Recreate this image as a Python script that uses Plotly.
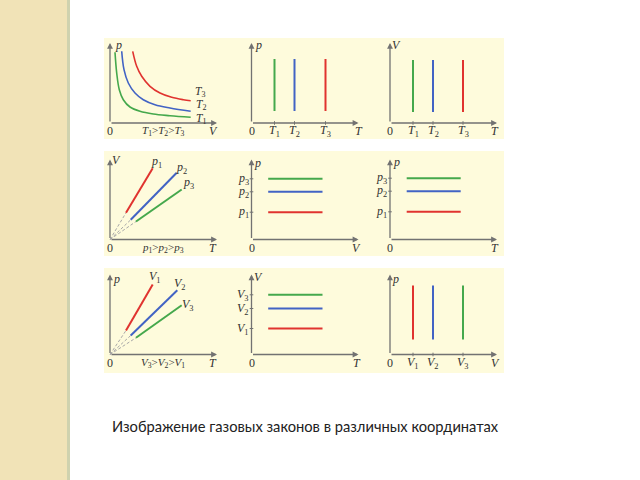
import plotly.graph_objects as go

W, H = 640, 480

# ---------------- data (abstract units) ----------------
# Panel 1: isotherms p(V)
iso_T1_V = [5, 6.7, 9.3, 13.3, 20, 30, 43.3, 60, 80.7]
iso_T1_p = [70.7, 50, 33.3, 23.3, 16, 11.7, 9, 7.3, 5.7]
iso_T2_V = [11.7, 14, 18.3, 25, 33.3, 45, 60, 80.7]
iso_T2_p = [71.7, 53.3, 40, 30, 23.3, 18.3, 15, 11.7]
iso_T3_V = [22.7, 26.7, 31.7, 40, 50, 61.7, 73.3, 80.7]
iso_T3_p = [71.7, 56.7, 46.7, 36.7, 30, 25.7, 23.3, 22.3]

# Panels 2 and 3: isotherms in p-T and V-T (vertical lines)
pT_T_pos = [23, 43, 74]
pT_span = [12, 64]
VT_T_pos = [23, 43, 73]
VT_span = [11, 63]
T_labels = ["1", "2", "3"]

# Panel 4: isobars V(T): solid segment start/end
isobar_T_start = [16, 20.7, 26]
isobar_V_start = [26.7, 19.7, 18]
isobar_T_end = [42.7, 66.7, 71.7]
isobar_V_end = [71.3, 66.7, 50]

# Panel 5: isobars p-V (horizontal lines), order p1, p2, p3
pV_p_levels = [27.3, 47.7, 60.7]
pV_span = [16.7, 71]
# Panel 6: isobars p-T
pT_p_levels = [27.7, 48.3, 61.3]
pT_span_h = [16.7, 70.7]

# Panel 7: isochores p(T)
isochore_T_start = [16, 20.7, 26]
isochore_p_start = [24, 19, 16.7]
isochore_T_end = [42.7, 67.3, 71.7]
isochore_p_end = [70, 64.3, 49.3]

# Panel 8: isochores V-T (horizontal), order V1, V2, V3
VT_V_levels = [26, 46, 59.7]
VT_span_h = [16.7, 71]

# Panel 9: isochores p-V (vertical), order V1, V2, V3
pV_V_pos = [23, 43, 73]
pV_span_v = [15, 69]

RED, BLUE, GREEN = "#E0332F", "#4263C4", "#45A84C"
AXC = "#727272"
CREAM = "#FEFBDC"
FONT = "Liberation Serif"

# ---------------- layout geometry ----------------
cols = [(104, 238, 110), (238, 372, 251.5), (372, 504, 390)]
rows = [(38, 139, 123), (151, 256, 239.5), (268, 373, 354.5)]
AX_X, AX_Y = 107, 80

fig = go.Figure()
layout = {}
annotations = []
shapes = []

def ref(n):
    return ("x" if n == 1 else f"x{n}", "y" if n == 1 else f"y{n}")

n = 0
for r, (y0, y1, oy) in enumerate(rows):
    for c, (x0, x1, ox) in enumerate(cols):
        n += 1
        xn = "xaxis" if n == 1 else f"xaxis{n}"
        yn = "yaxis" if n == 1 else f"yaxis{n}"
        xr, yr = ref(n)
        layout[xn] = dict(domain=[x0 / W, x1 / W], range=[x0 - ox, x1 - ox],
                          visible=False, anchor=yr, fixedrange=True)
        layout[yn] = dict(domain=[1 - y1 / H, 1 - y0 / H], range=[oy - y1, oy - y0],
                          visible=False, anchor=xr, fixedrange=True)
        # axis arrows
        for (hx, hy) in [(AX_X, 0), (0, AX_Y)]:
            annotations.append(dict(xref=xr, yref=yr, axref=xr, ayref=yr,
                                    x=hx, y=hy, ax=0, ay=0, text="",
                                    showarrow=True, arrowhead=2, arrowsize=0.9,
                                    arrowwidth=1.3, arrowcolor=AXC))

# row backgrounds
for (y0, y1, oy) in rows:
    shapes.append(dict(type="rect", xref="paper", yref="paper", layer="below",
                       x0=104 / W, x1=504 / W, y0=1 - y1 / H, y1=1 - y0 / H,
                       fillcolor=CREAM, line=dict(width=0)))
# left decorative strip
shapes.append(dict(type="rect", xref="paper", yref="paper", layer="below",
                   x0=0, x1=67 / W, y0=0, y1=1, fillcolor="#F1E3B7", line=dict(width=0)))
shapes.append(dict(type="rect", xref="paper", yref="paper", layer="below",
                   x0=67 / W, x1=70 / W, y0=0, y1=1, fillcolor="#CFD2AE", line=dict(width=0)))


def line(n, xs, ys, color, width=2, dash=None, shape="linear"):
    xr, yr = ref(n)
    fig.add_trace(go.Scatter(x=xs, y=ys, mode="lines", xaxis=xr, yaxis=yr,
                             line=dict(color=color, width=width, dash=dash, shape=shape),
                             showlegend=False, hoverinfo="skip"))


def label(n, x, y, text, size=12, xanchor="center"):
    xr, yr = ref(n)
    annotations.append(dict(xref=xr, yref=yr, x=x, y=y, text=text, showarrow=False,
                            xanchor=xanchor, yanchor="middle",
                            font=dict(family=FONT, size=size, color="#333")))


def xtick(n, x):
    line(n, [x, x], [-1.8, 1.8], AXC, width=1)


def ytick(n, y):
    line(n, [-1.8, 1.8], [y, y], AXC, width=1)


def it(s, sub=None):
    return f"<i>{s}</i>" + (f"<sub>{sub}</sub>" if sub else "")


# Panel 1
for xs, ys, col in [(iso_T1_V, iso_T1_p, GREEN), (iso_T2_V, iso_T2_p, BLUE), (iso_T3_V, iso_T3_p, RED)]:
    line(1, xs, ys, col, width=1.6, shape="spline")
label(1, 8, 78, it("p"))
label(1, 0, -8, "0")
label(1, 103, -8, it("V"))
label(1, 53, -8, it("T", "1") + "&gt;" + it("T", "2") + "&gt;" + it("T", "3"), size=11)
label(1, 83, 31, it("T", "3"), size=11.5, xanchor="left")
label(1, 84, 17.5, it("T", "2"), size=11.5, xanchor="left")
label(1, 84, 4, it("T", "1"), size=11.5, xanchor="left")

# Panel 2 (p-T)
for x, col, s in zip(pT_T_pos, [GREEN, BLUE, RED], T_labels):
    line(2, [x, x], pT_span, col)
    xtick(2, x)
    label(2, x, -8, it("T", s))
label(2, 7, 78, it("p"))
label(2, 0, -8, "0")
label(2, 107, -8, it("T"))

# Panel 3 (V-T)
for x, col, s in zip(VT_T_pos, [GREEN, BLUE, RED], T_labels):
    line(3, [x, x], VT_span, col)
    xtick(3, x)
    label(3, x, -8, it("T", s))
label(3, 6, 78, it("V"))
label(3, 0, -8, "0")
label(3, 105, -8, it("T"))

# Panel 4 (V-T isobars)
for i, col in enumerate([RED, BLUE, GREEN]):
    line(4, [0, isobar_T_start[i]], [0, isobar_V_start[i]], "#A8A8A8", width=1, dash="3px,2px")
    line(4, [isobar_T_start[i], isobar_T_end[i]], [isobar_V_start[i], isobar_V_end[i]], col)
label(4, 6, 80, it("V"))
label(4, 46.7, 77.3, it("p", "1"))
label(4, 71.7, 71.3, it("p", "2"))
label(4, 78.3, 56.3, it("p", "3"))
label(4, 0, -8.5, "0")
label(4, 103, -8.5, it("T"))
label(4, 53, -8.5, it("p", "1") + "&gt;" + it("p", "2") + "&gt;" + it("p", "3"), size=11)

# Panel 5 (p-V isobars)
for y, col, s in zip(pV_p_levels, [RED, BLUE, GREEN], ["1", "2", "3"]):
    line(5, pV_span, [y, y], col)
    ytick(5, y)
    label(5, -8.5, y, it("p", s))
label(5, 6, 77, it("p"))
label(5, 0, -8.5, "0")
label(5, 105, -8.5, it("V"))

# Panel 6 (p-T isobars)
for y, col, s in zip(pT_p_levels, [RED, BLUE, GREEN], ["1", "2", "3"]):
    line(6, pT_span_h, [y, y], col)
    ytick(6, y)
    label(6, -8.5, y, it("p", s))
label(6, 6, 78, it("p"))
label(6, 0, -8.5, "0")
label(6, 105, -8.5, it("T"))

# Panel 7 (p-T isochores)
for i, col in enumerate([RED, BLUE, GREEN]):
    line(7, [0, isochore_T_start[i]], [0, isochore_p_start[i]], "#A8A8A8", width=1, dash="3px,2px")
    line(7, [isochore_T_start[i], isochore_T_end[i]], [isochore_p_start[i], isochore_p_end[i]], col)
label(7, 6.5, 76, it("p"))
label(7, 45, 77.7, it("V", "1"))
label(7, 70, 71, it("V", "2"))
label(7, 78.3, 50, it("V", "3"))
label(7, 0, -8.5, "0")
label(7, 103, -8.5, it("T"))
label(7, 53, -8.5, it("V", "3") + "&gt;" + it("V", "2") + "&gt;" + it("V", "1"), size=11)

# Panel 8 (V-T isochores)
for y, col, s in zip(VT_V_levels, [RED, BLUE, GREEN], ["1", "2", "3"]):
    line(8, VT_span_h, [y, y], col)
    ytick(8, y)
    label(8, -9, y, it("V", s))
label(8, 6.5, 78, it("V"))
label(8, 0, -8.5, "0")
label(8, 105, -8.5, it("T"))

# Panel 9 (p-V isochores)
for x, col, s in zip(pV_V_pos, [RED, BLUE, GREEN], ["1", "2", "3"]):
    line(9, [x, x], pV_span_v, col)
    xtick(9, x)
    label(9, x, -8, it("V", s))
label(9, 5.5, 76, it("p"))
label(9, 0, -8, "0")
label(9, 105, -8, it("V"))

# caption
annotations.append(dict(xref="paper", yref="paper", x=110 / W, y=1 - 426 / H,
                        xanchor="left", yanchor="middle", showarrow=False,
                        text="Изображение газовых законов в различных координатах",
                        font=dict(family="Lato", size=14.7, color="#222")))

fig.update_layout(width=W, height=H, margin=dict(l=0, r=0, t=0, b=0),
                  paper_bgcolor="white", plot_bgcolor="rgba(0,0,0,0)",
                  annotations=annotations, shapes=shapes, **layout)

fig.write_html("out.html")
